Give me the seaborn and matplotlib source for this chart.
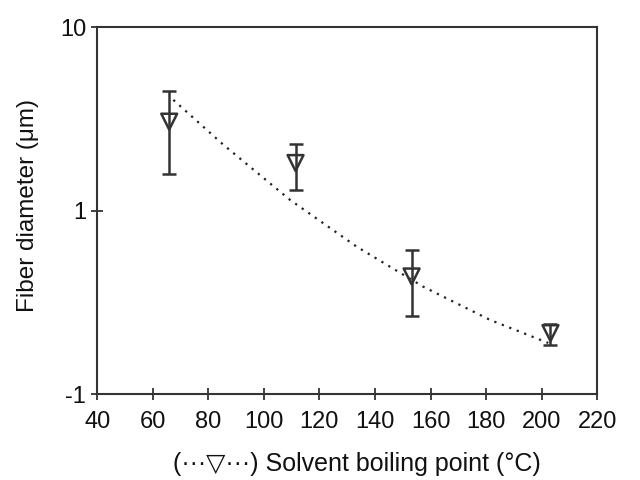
import matplotlib
matplotlib.use("Agg")
import matplotlib.pyplot as plt
import seaborn as sns
import pandas as pd
import numpy as np

# measured points
boiling_point = [65.9, 111.4, 153.2, 203.2]
diameter = [3.06, 1.82, 0.438, 0.215]
err_upper = [4.5, 2.32, 0.611, 0.240]
err_lower = [1.59, 1.30, 0.268, 0.186]

# dotted trend curve
trend_x = [67.4, 85.4, 109.4, 133.4, 157.4, 181.4, 202.4]
trend_y = [4.02, 2.29, 1.146, 0.637, 0.385, 0.254, 0.19]

y_ticks = [0.1, 1, 10]
y_tick_labels = ["-1", "1", "10"]
x_ticks = [40, 60, 80, 100, 120, 140, 160, 180, 200, 220]

sns.set_style("white")
plt.rcParams['font.family'] = ['Liberation Sans', 'DejaVu Sans']

fig = plt.figure(figsize=(6.4, 4.8), dpi=100)
ax = fig.add_axes([0.152, 0.179, 0.781, 0.764])

col = "#333333"
trend = pd.DataFrame({"x": trend_x, "y": trend_y})
sns.lineplot(data=trend, x="x", y="y", ax=ax, color="#222222", lw=1.6,
             dashes=False, linestyle=(0, (1, 2.6)), sort=False)

d = np.array(diameter)
yerr = np.vstack([d - np.array(err_lower), np.array(err_upper) - d])
ax.errorbar(boiling_point, diameter, yerr=yerr, fmt='none', ecolor=col,
            elinewidth=1.8, capsize=5, capthick=1.8)
pts = pd.DataFrame({"x": boiling_point, "y": diameter})
sns.scatterplot(data=pts, x="x", y="y", ax=ax, marker="v", s=130,
                facecolor="none", edgecolor=col, linewidth=1.8, zorder=5)

ax.set_yscale("log")
ax.set_ylim(0.1, 10)
ax.set_xlim(40, 220)
ax.set_yticks(y_ticks)
ax.set_yticklabels(y_tick_labels)
ax.yaxis.set_minor_locator(matplotlib.ticker.NullLocator())
ax.set_xticks(x_ticks)
ax.tick_params(axis='both', which='major', bottom=True, left=True,
               direction='inout', length=8, width=1.3,
               color=col, labelsize=17, labelcolor="#111111", pad=4)
ax.tick_params(axis='x', pad=8)
for s in ax.spines.values():
    s.set_color(col)
    s.set_linewidth(1.5)

ax.set_xlabel("(\u00b7\u00b7\u00b7\u25bd\u00b7\u00b7\u00b7) Solvent boiling point (\u00b0C)",
              fontsize=18, color="#111111", va="center", ha="center")
ax.xaxis.set_label_coords(0.52, -0.191)
ax.set_ylabel("Fiber diameter (\u03bcm)", fontsize=17.5, color="#111111",
              va="center", ha="center")
ax.yaxis.set_label_coords(-0.138, 0.515)

fig.savefig("out.png", dpi=100, facecolor="white")
